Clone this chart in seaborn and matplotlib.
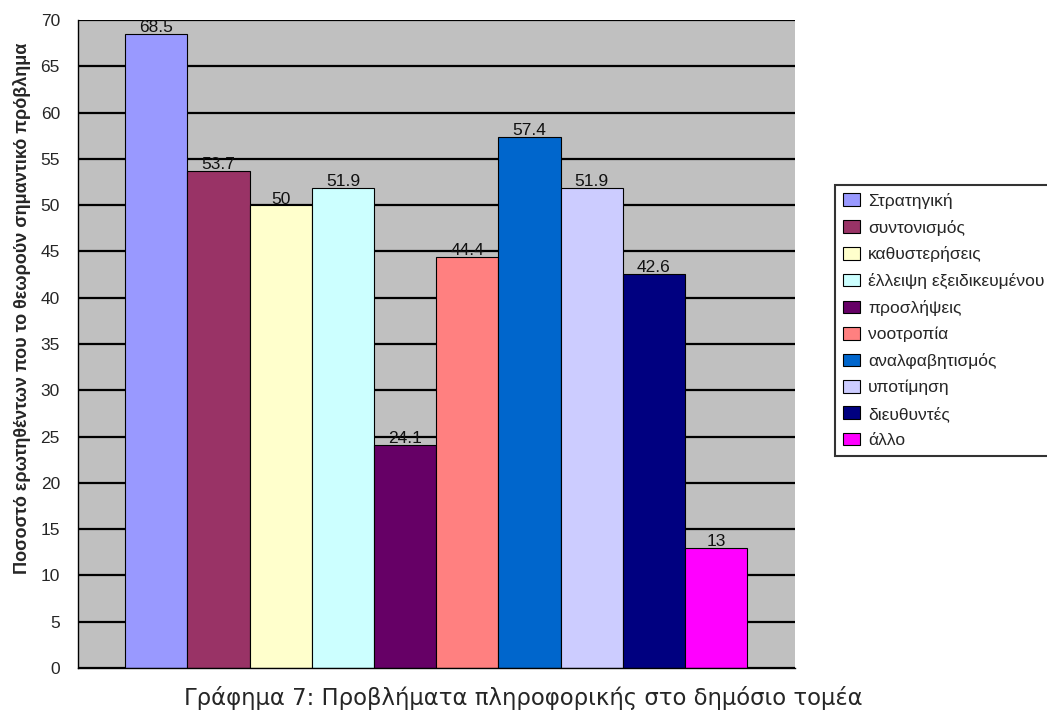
import matplotlib
matplotlib.use("Agg")
import matplotlib.pyplot as plt
from matplotlib.patches import Patch
import seaborn as sns
import pandas as pd

labels = ["Στρατηγική", "συντονισμός", "καθυστερήσεις", "έλλειψη εξειδικευμένου προσωπικού",
          "προσλήψεις", "νοοτροπία", "αναλφαβητισμός", "υποτίμηση", "διευθυντές", "άλλο"]
values = [68.5, 53.7, 50, 51.9, 24.1, 44.4, 57.4, 51.9, 42.6, 13]
colors = ["#9999FF", "#993366", "#FFFFCC", "#CCFFFF", "#660066",
          "#FF8080", "#0066CC", "#CCCCFF", "#000080", "#FF00FF"]
yticks = list(range(0, 75, 5))
title = "Γράφημα 7: Προβλήματα πληροφορικής στο δημόσιο τομέα"
ylabel = "Ποσοστό ερωτηθέντων που το θεωρούν σημαντικό πρόβλημα"

sns.set_style("white")
plt.rcParams["font.family"] = ["Liberation Sans", "DejaVu Sans"]

df = pd.DataFrame({"label": labels, "value": values})

W, H = 1047, 713
fig = plt.figure(figsize=(W / 100, H / 100), dpi=100)
ax = fig.add_axes([78 / W, 1 - 668 / H, (795 - 78) / W, (668 - 20) / H])
ax.set_facecolor("#C0C0C0")

sns.barplot(data=df, x="label", y="value", hue="label", order=labels, hue_order=labels,
            palette=colors, width=1.0, dodge=False, edgecolor="black", linewidth=0.8,
            legend=False, ax=ax, saturation=1)

for c in ax.containers:
    ax.bar_label(c, fmt="%g", padding=-1, fontsize=12.5, color="#111111")

ax.set_ylim(0, 70)
ax.set_yticks(yticks)
ax.set_yticklabels([str(t) for t in yticks], fontsize=12.5)
xmin, xmax = -1.26, 10.27
ax.set_xlim(xmin, xmax)
ax.set_xticks([xmin, xmax])
ax.set_xticklabels(["", ""])
ax.tick_params(axis="both", direction="out", length=7.5, width=1, color="black", pad=5.5)
ax.set_axisbelow(True)
ax.yaxis.grid(True, color="black", linewidth=1.6)
ax.xaxis.grid(False)
for s in ["top", "right"]:
    ax.spines[s].set_visible(False)
for s in ["left", "bottom"]:
    ax.spines[s].set_color("black")
    ax.spines[s].set_linewidth(1.0)
ax.set_xlabel("")
ax.set_ylabel("")

fig.text(22.5 / W, 1 - 308.5 / H, ylabel, rotation=90, ha="center", va="center",
         fontsize=13, fontweight="bold")

t = fig.text(523.5 / W, 1 - 705 / H, title, ha="center", va="baseline", fontsize=16,
             family=["DejaVu Sans"])
fig.canvas.draw()
w = t.get_window_extent().width
t.set_fontsize(16 * 681 / w)

handles = [Patch(facecolor=c, edgecolor="black", linewidth=0.8) for c in colors]
leg = fig.legend(handles, labels, loc="upper left", bbox_to_anchor=(835 / W, 1 - 185 / H),
                 frameon=True, fancybox=False, fontsize=12.5, handlelength=1.0, handleheight=0.75,
                 handletextpad=0.45, labelspacing=0.62, borderpad=0.45, borderaxespad=0)
leg.get_frame().set_edgecolor("black")
leg.get_frame().set_linewidth(1.5)

fig.savefig("out.png", dpi=100)
